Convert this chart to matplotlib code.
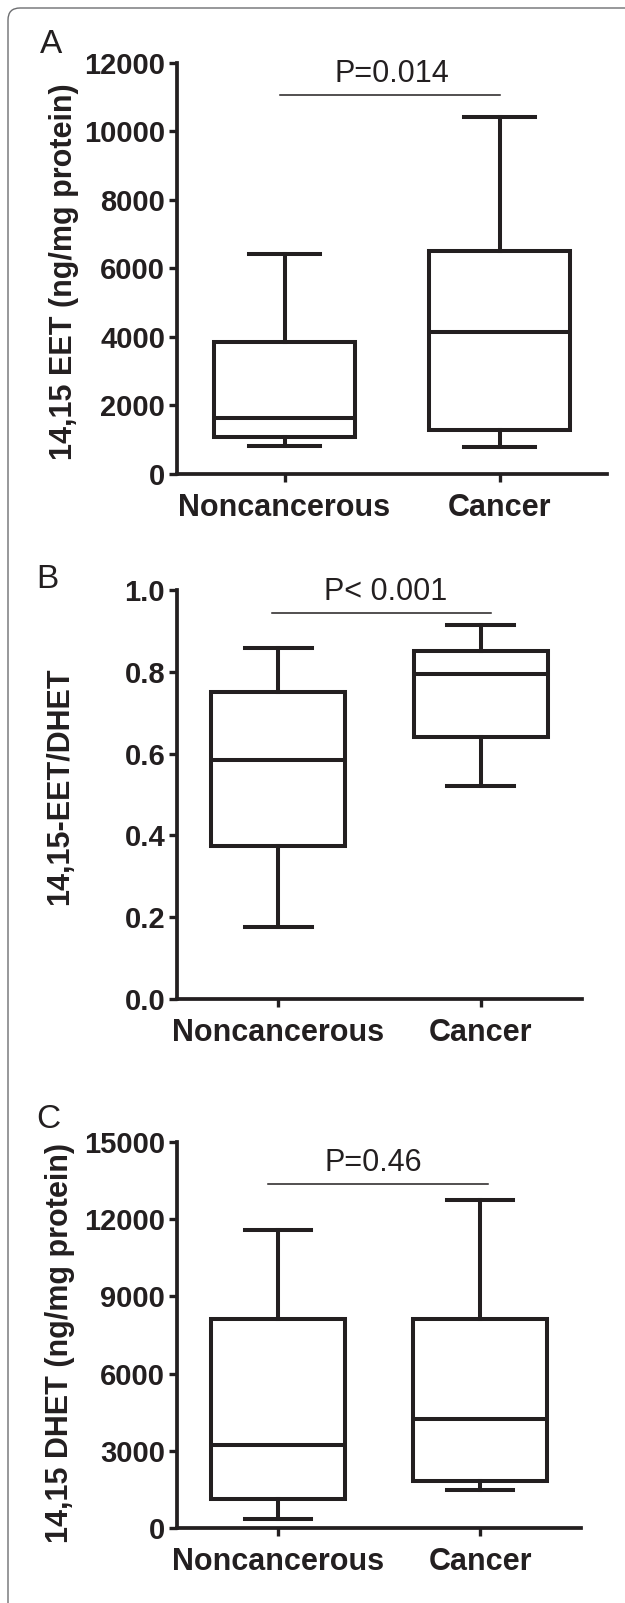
import matplotlib
matplotlib.use("Agg")
import matplotlib.pyplot as plt
import matplotlib.patches as mpatches
from matplotlib.transforms import IdentityTransform

plt.rcParams["font.family"] = ["Liberation Sans", "DejaVu Sans"]

W, H = 625, 1603

groups = ["Noncancerous", "Cancer"]

# box statistics: low whisker, Q1, median, Q3, high whisker
eet_low = [820, 800]
eet_q1 = [1090, 1290]
eet_med = [1630, 4150]
eet_q3 = [3850, 6510]
eet_high = [6430, 10430]

ratio_low = [0.177, 0.520]
ratio_q1 = [0.374, 0.641]
ratio_med = [0.585, 0.795]
ratio_q3 = [0.750, 0.852]
ratio_high = [0.858, 0.915]

dhet_low = [340, 1470]
dhet_q1 = [1120, 1820]
dhet_med = [3230, 4230]
dhet_q3 = [8140, 8140]
dhet_high = [11580, 12740]

panels = [
    dict(letter="A", ylabel="14,15 EET (ng/mg protein)",
         stats=(eet_low, eet_q1, eet_med, eet_q3, eet_high),
         ymax=12000, yticks=[0, 2000, 4000, 6000, 8000, 10000, 12000],
         ptext="P=0.014", pline=11070, px=(0.98, 2.0), ptx=1.5,
         box_px=(177, 607, 62.7, 474), letter_px=(40, 53), label_px=(79, 272)),
    dict(letter="B", ylabel="14,15-EET/DHET",
         stats=(ratio_low, ratio_q1, ratio_med, ratio_q3, ratio_high),
         ymax=1.0, yticks=[0.0, 0.2, 0.4, 0.6, 0.8, 1.0],
         ptext="P< 0.001", pline=0.944, px=(0.97, 2.05), ptx=1.53,
         box_px=(177, 582, 590, 999), letter_px=(36, 588), label_px=(75, 786)),
    dict(letter="C", ylabel="14,15 DHET (ng/mg protein)",
         stats=(dhet_low, dhet_q1, dhet_med, dhet_q3, dhet_high),
         ymax=15000, yticks=[0, 3000, 6000, 9000, 12000, 15000],
         ptext="P=0.46", pline=13370, px=(0.95, 2.04), ptx=1.47,
         box_px=(177, 581, 1142, 1528), letter_px=(36, 1128), label_px=(75, 1343)),
]

ink = "#231f20"
fig = plt.figure(figsize=(W / 100, H / 100), dpi=100)

for p in panels:
    x0, x1, yt, yb = p["box_px"]
    ax = fig.add_axes([x0 / W, 1 - yb / H, (x1 - x0) / W, (yb - yt) / H])
    lo, q1, med, q3, hi = p["stats"]
    bstats = [dict(whislo=lo[i], q1=q1[i], med=med[i], q3=q3[i], whishi=hi[i], label=g)
              for i, g in enumerate(groups)]
    ax.bxp(bstats, positions=[1, 2], widths=0.66, showfliers=False, patch_artist=True,
           boxprops=dict(facecolor="white", edgecolor=ink, linewidth=2.9),
           medianprops=dict(color=ink, linewidth=2.9),
           whiskerprops=dict(color=ink, linewidth=2.9),
           capprops=dict(color=ink, linewidth=2.9),
           capwidths=0.33)
    ax.set_xlim(0.5, 2.5)
    ax.set_ylim(0, p["ymax"])
    ax.set_yticks(p["yticks"])
    if p["ymax"] == 1.0:
        ax.set_yticklabels([f"{t:.1f}" for t in p["yticks"]])
    else:
        ax.set_yticklabels([str(t) for t in p["yticks"]])
    ax.set_xticks([1, 2])
    ax.set_xticklabels(groups)
    for s in ["top", "right"]:
        ax.spines[s].set_visible(False)
    for s in ["left", "bottom"]:
        ax.spines[s].set_linewidth(2.7)
        ax.spines[s].set_color(ink)
    ax.tick_params(axis="y", length=5.5, width=2.4, color=ink, pad=3,
                   labelsize=21)
    ax.tick_params(axis="x", length=5.5, width=2.4, color=ink, pad=8,
                   labelsize=22)
    for lab in ax.get_xticklabels() + ax.get_yticklabels():
        lab.set_fontweight("bold")
        lab.set_color(ink)
    ax.set_ylabel(p["ylabel"], fontsize=22, fontweight="bold", color=ink)
    lxp, lyp = p["label_px"]
    ax.yaxis.set_label_coords((lxp - x0) / (x1 - x0), (yb - lyp) / (yb - yt))
    ax.plot(p["px"], [p["pline"], p["pline"]], color=ink, linewidth=1.1, clip_on=False)
    ax.annotate(p["ptext"], xy=(p["ptx"], p["pline"]), xytext=(0, 4),
                textcoords="offset points", ha="center", va="bottom",
                fontsize=22, color=ink, annotation_clip=False)
    ax.patch.set_alpha(0)
    lx, ly = p["letter_px"]
    fig.text(lx / W, 1 - ly / H, p["letter"], fontsize=24, color=ink,
             ha="left", va="baseline")

# rounded frame around the figure, running off the right and bottom edges
frame = mpatches.FancyBboxPatch((8, -40), W + 40, H - 8 + 40,
                                boxstyle="round,pad=0,rounding_size=12",
                                transform=IdentityTransform(), fill=False,
                                edgecolor="#6d6e71", linewidth=1.0)
fig.patches.append(frame)

fig.savefig("out.png", dpi=100)
